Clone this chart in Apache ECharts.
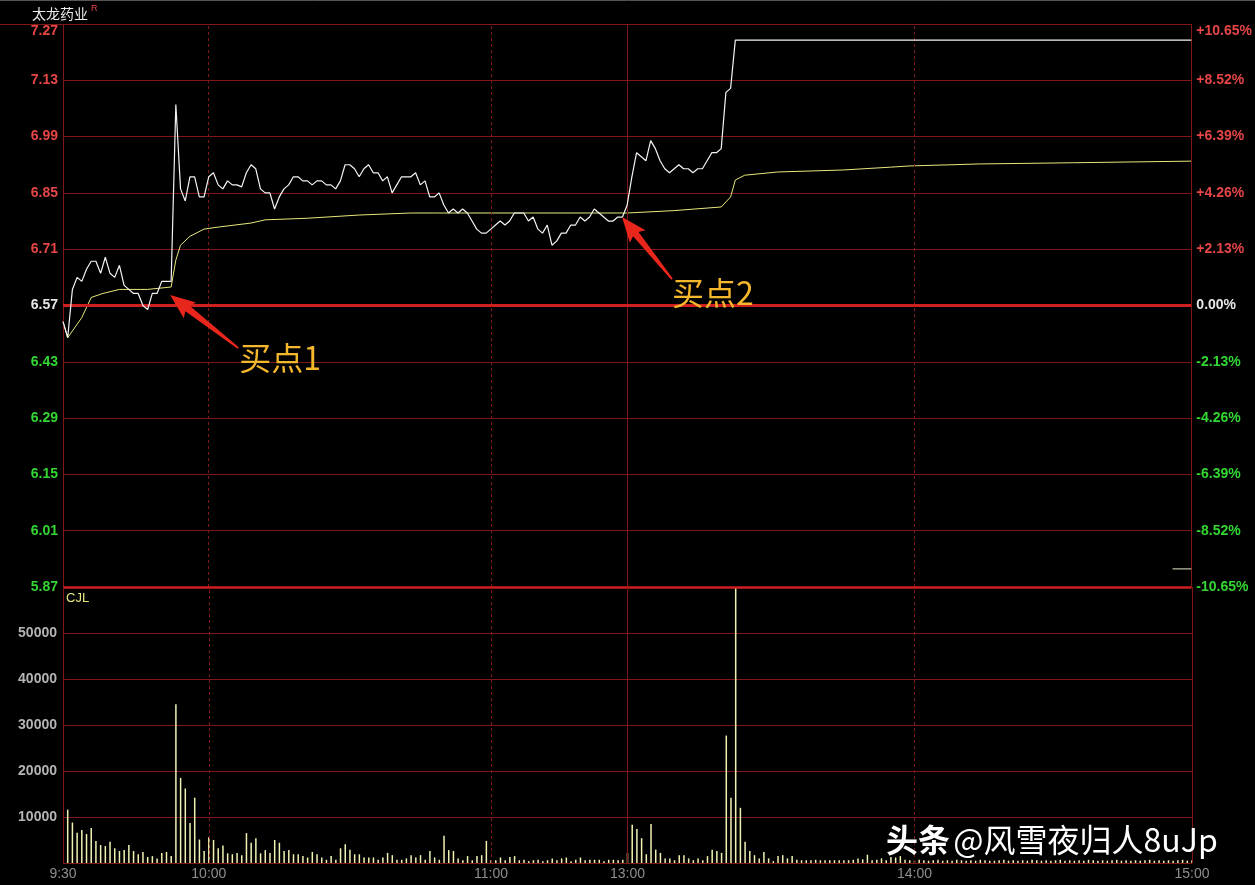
<!DOCTYPE html>
<html><head><meta charset="utf-8">
<script src="https://cdn.jsdelivr.net/npm/echarts@6/dist/echarts.min.js"></script>
<style>html,body{margin:0;padding:0;background:#000;overflow:hidden}#c{width:1255px;height:885px}</style>
</head><body><div id="c"></div>
<script>
// ---------- DATA ----------
const stockName = '太龙药业';
const preClose = 6.57;
const priceTicks = [5.87, 6.01, 6.15, 6.29, 6.43, 6.57, 6.71, 6.85, 6.99, 7.13, 7.27];
const pctTicks = [-10.65, -8.52, -6.39, -4.26, -2.13, 0, 2.13, 4.26, 6.39, 8.52, 10.65];
const timeTickMinutes = [0, 31, 91, 120, 181, 240];
const timeTickLabels = ['9:30', '10:00', '11:00', '13:00', '14:00', '15:00'];
const dashedLineMinutes = [31, 91, 181];
const solidLineMinutes = [0, 120, 240];

// price per minute, minute 0..143 (then holds limit-up until close)
const priceValues = [
  6.53, 6.49, 6.61, 6.64, 6.63, 6.66, 6.68, 6.68, 6.65, 6.69,
  6.65, 6.64, 6.67, 6.62, 6.61, 6.60, 6.60, 6.57, 6.56, 6.60,
  6.60, 6.63, 6.63, 6.63, 7.07, 6.86, 6.83, 6.89, 6.89, 6.84,
  6.84, 6.89, 6.90, 6.87, 6.86, 6.88, 6.87, 6.87, 6.865, 6.90,
  6.92, 6.91, 6.86, 6.85, 6.85, 6.81, 6.84, 6.86, 6.87, 6.89,
  6.89, 6.88, 6.88, 6.87, 6.88, 6.88, 6.87, 6.87, 6.86, 6.88,
  6.92, 6.92, 6.91, 6.89, 6.91, 6.92, 6.90, 6.90, 6.88, 6.89,
  6.85, 6.87, 6.89, 6.89, 6.89, 6.90, 6.87, 6.88, 6.84, 6.84,
  6.85, 6.82, 6.80, 6.81, 6.80, 6.81, 6.80, 6.78, 6.76, 6.75,
  6.75, 6.76, 6.77, 6.78, 6.77, 6.78, 6.80, 6.80, 6.80, 6.78,
  6.79, 6.76, 6.75, 6.77, 6.72, 6.73, 6.75, 6.75, 6.77, 6.77,
  6.79, 6.78, 6.79, 6.81, 6.80, 6.79, 6.78, 6.78, 6.79, 6.79,
  6.82, 6.89, 6.95, 6.94, 6.93, 6.98, 6.96, 6.93, 6.91, 6.90,
  6.91, 6.92, 6.91, 6.91, 6.90, 6.91, 6.91, 6.93, 6.95, 6.95,
  6.96, 7.10, 7.11, 7.23
];
const limitUpPrice = 7.23;
const closeMinute = 240;

// average price line (vertices)
const vwapMinutes = [0, 1, 4, 6, 8.5, 12, 18, 23, 24, 25, 27, 30, 33, 40, 43, 52, 63, 74, 80, 100, 120, 130, 140, 142, 143, 145, 152, 166, 176, 180, 195, 215, 240];
const vwapValues  = [6.53, 6.49, 6.54, 6.59, 6.60, 6.61, 6.61, 6.616, 6.683, 6.72, 6.742, 6.76, 6.765, 6.775, 6.783, 6.787, 6.795, 6.80, 6.80, 6.80, 6.80, 6.806, 6.815, 6.84, 6.882, 6.894, 6.902, 6.907, 6.914, 6.917, 6.922, 6.925, 6.929];

// volume per minute, minute 1..240
const volumeMorningA = [
  11600, 8800, 6600, 7200, 6300, 7600, 4800, 3900, 3700, 4600,
  3200, 2600, 2800, 3900, 2600, 1900, 2400, 1300, 1500, 1000,
  2200, 2400, 1500, 34500, 18500, 16200, 8700, 14200, 5100, 2600,
  5600, 5000, 3200, 3800, 2100, 1900, 2200, 1700, 6500, 4400,
  5400, 2100, 2800, 2200, 5000, 4400, 2600, 2800, 1900, 1900,
  1500, 1200, 2400, 1900, 1200, 700, 1500, 700, 3200, 4100,
  2900, 1900, 1900, 1200, 1200, 1200, 700, 1200, 2200, 1700,
  700
];
const volumeMiddayB = [
  700, 1000, 1700, 1200, 1700, 700, 2600, 1200, 700, 5900,
  2800, 2600, 1000, 600, 1500, 600, 1500, 1700, 4800, 600,
  600, 1200, 600, 1300, 1500, 600, 700, 400, 600, 700,
  400, 600, 1000, 600, 1000, 1200, 400, 700, 1200, 600,
  700, 700, 700, 400, 700, 700, 600, 700, 2200, 8300,
  7400, 5400, 1900, 8500, 2900, 2200, 1000, 1000, 600, 1700,
  1700, 1000, 600, 1000, 600, 1500, 2900, 2600, 2200, 27700,
  14200, 60000, 12000, 4600, 2600, 1700, 1000, 2400, 1000, 400,
  1500, 1700, 1000, 1500, 700, 600, 600, 600, 700, 600,
  600, 600, 600, 600, 600
];
const volumeAfternoonC = [
  600, 700, 1000, 800, 1800, 600, 700, 1000, 600, 1300,
  1200, 1500, 700, 600, 500, 700, 600, 500, 600, 700,
  500, 600, 500, 700, 600, 500, 600, 500, 700, 600,
  500, 500, 600, 700, 500, 600, 500, 600, 500, 700,
  600, 500, 600, 500, 600, 700, 500, 600, 500, 600,
  500, 700, 600, 500, 600, 500, 600, 700, 500, 600,
  500, 600, 500, 600, 700, 500, 600, 500, 600, 500,
  600, 700, 500, 600
];
const volumeValues = volumeMorningA.concat(volumeMiddayB, volumeAfternoonC);

const tailMarkMinutes = [236, 240];
const tailMarkPrice = 5.915;

const annotationTexts = ['买点1', '买点2'];
const annotationMinutes = [22.8, 118.9];
const annotationPrices = [6.596, 6.79];

// ---------- STYLE ----------
const RED = '#e64646', GREEN = '#33d633', WHITE = '#e6e6e6';
const GRID_RED = '#801818', BRIGHT_RED = '#cf1f1f';
const LABEL_FONT = 'Liberation Sans, Arial, sans-serif';
const priceLabelColor = v => { v = +v; return Math.abs(v - preClose) < 1e-6 ? WHITE : (v > preClose ? RED : GREEN); };
const pctLabelColor = v => { v = +v; return Math.abs(v) < 1e-6 ? WHITE : (v > 0 ? RED : GREEN); };
const fmtPct = v => { v = +v; return Math.abs(v) < 1e-6 ? '0.00%' : (v > 0 ? '+' : '') + v.toFixed(2) + '%'; };

const verticalMarkLines = dashedLineMinutes.map(m => ({xAxis: m, lineStyle: {color: GRID_RED, type: [3, 3], width: 1}}))
  .concat(solidLineMinutes.map(m => ({xAxis: m, lineStyle: {color: GRID_RED, type: 'solid', width: 1}})));

const chart = echarts.init(document.getElementById('c'), null, {renderer: 'canvas'});
const option = {
  backgroundColor: '#000',
  animation: false,
  grid: [
    {left: 63, right: 63, top: 24, height: 563},
    {left: 63, right: 63, top: 587, height: 276}
  ],
  xAxis: [
    {type: 'value', gridIndex: 0, min: 0, max: 240, show: false},
    {type: 'value', gridIndex: 1, min: 0, max: 240,
     axisLine: {show: false}, axisTick: {show: false}, splitLine: {show: false},
     axisLabel: {customValues: timeTickMinutes, formatter: v => timeTickLabels[timeTickMinutes.indexOf(+v)] || '',
       color: '#8e8e8e', fontSize: 14, fontFamily: LABEL_FONT, margin: 4}}
  ],
  yAxis: [
    {type: 'value', gridIndex: 0, min: 5.87, max: 7.27, position: 'left',
     axisLine: {show: false}, axisTick: {show: false, customValues: priceTicks},
     splitLine: {show: true, lineStyle: {color: GRID_RED, width: 1}},
     axisLabel: {customValues: priceTicks, formatter: v => (+v).toFixed(2), color: priceLabelColor,
       fontSize: 14, fontWeight: 'bold', fontFamily: LABEL_FONT, margin: 5,
       verticalAlignMaxLabel: 'top'}},
    {type: 'value', gridIndex: 0, min: -10.65, max: 10.65, position: 'right',
     axisLine: {show: false}, axisTick: {show: false, customValues: pctTicks}, splitLine: {show: false},
     axisLabel: {customValues: pctTicks, formatter: fmtPct, color: pctLabelColor,
       fontSize: 14, fontWeight: 'bold', fontFamily: LABEL_FONT, margin: 5,
       verticalAlignMaxLabel: 'top'}},
    {type: 'value', gridIndex: 1, min: 0, max: 60000, interval: 10000, position: 'left',
     axisLine: {show: false}, axisTick: {show: false},
     splitLine: {show: true, lineStyle: {color: GRID_RED, width: 1}},
     axisLabel: {showMinLabel: false, showMaxLabel: false, formatter: v => String(Math.round(+v)),
       color: '#b4b4b4', fontSize: 14, fontWeight: 'bold', fontFamily: LABEL_FONT, margin: 6}}
  ],
  series: [
    {name: 'avg', type: 'line', xAxisIndex: 0, yAxisIndex: 0, z: 3,
     data: vwapMinutes.map((m, i) => [m, vwapValues[i]]), showSymbol: false, silent: true,
     lineStyle: {color: '#e8e87c', width: 1},
     markLine: {silent: true, symbol: 'none', label: {show: false},
       data: verticalMarkLines.concat([
         {yAxis: preClose, lineStyle: {color: BRIGHT_RED, width: 3, type: 'solid'}},
         {yAxis: 5.87, lineStyle: {color: BRIGHT_RED, width: 2.5, type: 'solid'}}
       ])}},
    {name: 'price', type: 'line', xAxisIndex: 0, yAxisIndex: 0, z: 5,
     data: priceValues.map((v, i) => [i, v]).concat([[closeMinute, limitUpPrice]]),
     showSymbol: false, silent: true, lineStyle: {color: '#f4f4f4', width: 1.2}},
    {name: 'tail', type: 'line', xAxisIndex: 0, yAxisIndex: 0, z: 5,
     data: tailMarkMinutes.map(m => [m, tailMarkPrice]), showSymbol: false, silent: true,
     lineStyle: {color: '#e8e8d0', width: 1}},
    {name: 'volume', type: 'bar', xAxisIndex: 1, yAxisIndex: 2, z: 4,
     data: volumeValues.map((v, i) => [i + 1, v]), barWidth: 1.5, silent: true,
     itemStyle: {color: '#f2f2b4'},
     markLine: {silent: true, symbol: 'none', label: {show: false}, data: verticalMarkLines}}
  ]
};
chart.setOption(option);

// ---------- annotations (arrows + labels), anchored to data coords ----------
const ARROW_TAIL = [[68, 53], [50, 62]];
const TEXT_OFFSET = [[69, 63], [50, 76]];
const graphics = [
  {type: 'line', shape: {x1: 0, y1: 24.5, x2: 63, y2: 24.5}, style: {stroke: GRID_RED, lineWidth: 1}, silent: true},
  {type: 'line', shape: {x1: 0, y1: 0.5, x2: 1255, y2: 0.5}, style: {stroke: '#555', lineWidth: 1}, silent: true},
  {type: 'text', x: 32, y: 14, style: {text: stockName, fill: '#ececec', font: '14px "Noto Sans CJK SC"', verticalAlign: 'middle'}, silent: true},
  {type: 'text', x: 91, y: 9, style: {text: 'R', fill: RED, font: '9px "Liberation Sans"', verticalAlign: 'middle'}, silent: true},
  {type: 'text', x: 66, y: 598, style: {text: 'CJL', fill: '#e8e87c', font: '13px "Liberation Sans"', verticalAlign: 'middle'}, silent: true},
  {type: 'text', x: 886, y: 840, z: 100, silent: true,
   style: {text: '{a|头条} {b|@风雪夜归人8uJp}', verticalAlign: 'middle',
     textShadowColor: 'rgba(0,0,0,0.7)', textShadowBlur: 3,
     rich: {a: {font: 'bold 32px "Noto Sans CJK SC"', fill: '#ffffff'},
            b: {font: '32px "Noto Sans CJK SC"', fill: '#ffffff'}}}}
];
annotationTexts.forEach((t, i) => {
  const tip = chart.convertToPixel({xAxisIndex: 0, yAxisIndex: 0}, [annotationMinutes[i], annotationPrices[i]]);
  const tail = [tip[0] + ARROW_TAIL[i][0], tip[1] + ARROW_TAIL[i][1]];
  const dx = tail[0] - tip[0], dy = tail[1] - tip[1], len = Math.hypot(dx, dy);
  const ux = dx / len, uy = dy / len, nx = -uy, ny = ux;
  const h = 22, hw = 10, sw = 3.5, tw = 1;
  const hb = [tip[0] + ux * h, tip[1] + uy * h];
  const pts = [
    tip,
    [hb[0] + nx * hw + ux * 3, hb[1] + ny * hw + uy * 3],
    [hb[0] + nx * sw, hb[1] + ny * sw],
    [tail[0] + nx * tw, tail[1] + ny * tw],
    [tail[0] - nx * tw, tail[1] - ny * tw],
    [hb[0] - nx * sw, hb[1] - ny * sw],
    [hb[0] - nx * hw + ux * 3, hb[1] - ny * hw + uy * 3]
  ];
  graphics.push({type: 'polygon', shape: {points: pts}, style: {fill: '#e8261c'}, z: 50, silent: true});
  graphics.push({type: 'text', x: tip[0] + TEXT_OFFSET[i][0], y: tip[1] + TEXT_OFFSET[i][1], z: 50, silent: true,
    style: {text: t, fill: '#f5b72b', font: '32px "Noto Sans CJK SC"', verticalAlign: 'middle'}});
});
chart.setOption({graphic: graphics});
</script>
</body></html>
